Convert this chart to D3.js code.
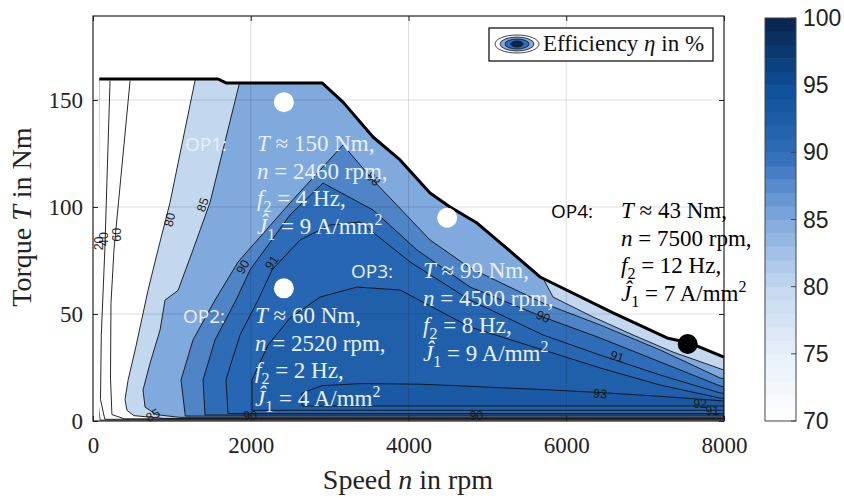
<!DOCTYPE html>
<html>
<head>
<meta charset="utf-8">
<script src="https://cdn.jsdelivr.net/npm/d3@7"></script>
<style>
body { margin: 0; background: #fff; }
svg { display: block; }
</style>
</head>
<body>
<svg id="effmap" width="844" height="498"></svg>
<script>
// torque limit of the machine (speed in rpm, torque in Nm)
const limitSpeed = [80, 1585, 1686, 2904, 3170, 3550, 3893, 4273, 4527, 4869, 5199, 5668, 6594, 7278, 7570, 8000];
const limitTorque = [159.8, 159.8, 158, 158, 149, 132.7, 122, 106.5, 100, 92.5, 82.2, 67.3, 50.5, 38.8, 36.4, 29.9];

// efficiency regions eta >= level as [rpm, Nm]
const levels = [80, 85, 88, 90, 91, 92, 93];
const eta80 = [[1293,190],[1293,159],[976,102],[824,80],[697,61],[545,35],[444,19],[406,10],[430,5],[520,2.5],[900,1.2],[8000,1.2],[8000,190]];
const eta85 = [[1870,190],[1864,159],[1483,102],[1268,80],[1078,61],[913,56.5],[850,42.5],[723,27],[634,14.5],[660,6.5],[800,3],[1100,1.7],[8000,1.7],[8000,23.8],[7354,32.2],[6847,40.2],[6340,48.6],[5833,57.9],[5600,74],[4000,190]];
const eta88 = [[1170,2.3],[1116,19.2],[1268,37.9],[1547,56.5],[1839,74.3],[2498,101.9],[3170,129],[3550,112.6],[4273,84.6],[4780,71.5],[5706,55.1],[6429,44.9],[7190,33.2],[7950,20.1],[8000,19.8],[8000,2.3]];
const eta90 = [[1420,2.8],[1395,19.2],[1547,37.9],[1813,56.5],[1991,70.6],[2498,96.3],[2916,111.2],[3550,98.6],[4108,79.9],[4780,62.6],[5706,48.6],[6429,38.8],[7190,27.6],[7950,16.4],[8000,16],[8000,2.8]];
const eta91 = [[1712,3.5],[1686,19.2],[1864,40.2],[2092,56.5],[2270,70.6],[2625,84.6],[3005,91.6],[3386,93],[4020,74.3],[4780,56.5],[5706,40.2],[6429,30.8],[7190,21.5],[7950,13.1],[8000,12.9],[8000,3.5]];
const eta92 = [[2016,5],[2016,19.2],[2219,35.5],[2498,48.1],[2878,57.9],[3348,62.6],[3893,61.2],[4780,43.9],[5706,33.2],[6429,24.8],[7190,16.8],[7950,10.7],[8000,10.5],[8000,5]];
const eta93 = [[2650,7],[2650,13],[2900,16.5],[3400,17.5],[4150,17.2],[4900,16],[5800,14.5],[6430,13.3],[7200,11.5],[7950,9.5],[8000,9.3],[8000,7]];
const regions = [eta80, eta85, eta88, eta90, eta91, eta92, eta93];

// low efficiency iso lines (open)
const eta20 = [[75,160],[68,80],[60,10],[90,0.4],[8000,0.4]];
const eta40 = [[216,159],[150,80],[105,40],[95,10],[150,0.8],[8000,0.8]];
const eta60 = [[470,159],[266,80],[228,55],[222,20],[240,3],[400,1.0],[8000,1.0]];

// contour labels
const labelText = ["20","40","60","80","85","88","90","91","90","91","93","92","91","85","90","90"];
const labelSpeed = [70,140,300,976,1394,3550,1902,2270,5706,6644,6429,7697,7850,760,1990,4860];
const labelTorque = [83,85,87,94,101,113,72,74,48.6,30,12.6,8,4.5,2.5,2.5,2.5];
const labelAngle = [-90,-90,-90,-76,-72,45,-60,-55,25,18,5,0,0,-30,0,0];

// operating points
const opName = ["OP1:", "OP2:", "OP3:", "OP4:"];
const opSpeed = [2420, 2420, 4490, 7540];
const opTorque = [149, 62, 95, 36];
const opTorqueText = ["150", "60", "99", "43"];
const opSpeedText = ["2460", "2520", "4500", "7500"];
const opF2 = ["4", "2", "8", "12"];
const opJ1 = ["9", "4", "9", "7"];

const xTicks = [0, 2000, 4000, 6000, 8000];
const yTicks = [0, 50, 100, 150];
const cTicks = [70, 75, 80, 85, 90, 95, 100];

const svg = d3.select("#effmap");
const x = d3.scaleLinear().domain([0, 8000]).range([93, 724]);
const y = d3.scaleLinear().domain([0, 189.25]).range([421, 16]);
const color = d3.scaleLinear()
  .domain([70, 75, 80, 85, 90, 95, 100])
  .range(["#ffffff", "#e6eff9", "#c3d8ef", "#80a9dd", "#2e6cb8", "#0c4e98", "#08234a"]);

const serif = "'Liberation Serif', 'Times New Roman', serif";
const sans = "'Liberation Sans', Arial, sans-serif";

// clip to torque envelope
const envPts = limitSpeed.map((s, i) => [s, limitTorque[i]]);
const clipPts = [[limitSpeed[0], 0]].concat(envPts).concat([[8000, 0]]);
const defs = svg.append("defs");
defs.append("clipPath").attr("id", "envclip")
  .append("path")
  .attr("d", "M" + clipPts.map(p => x(p[0]) + "," + y(p[1])).join("L") + "Z");
defs.append("clipPath").attr("id", "plotclip")
  .append("rect").attr("x", 93).attr("y", 16).attr("width", 631).attr("height", 405);

const line = d3.line().x(d => x(d[0])).y(d => y(d[1]));

const mapG = svg.append("g").attr("clip-path", "url(#plotclip)")
  .append("g").attr("clip-path", "url(#envclip)");

regions.forEach((r, i) => {
  mapG.append("path")
    .attr("d", line(r) + "Z")
    .attr("fill", color(levels[i]))
    .attr("stroke", "#111")
    .attr("stroke-width", 0.9);
});
[eta20, eta40, eta60].forEach(l => {
  mapG.append("path")
    .attr("d", line(l))
    .attr("fill", "none")
    .attr("stroke", "#111")
    .attr("stroke-width", 0.9);
});

// contour labels
labelText.forEach((t, i) => {
  const px = x(labelSpeed[i]), py = y(labelTorque[i]);
  svg.append("text")
    .text(t)
    .attr("transform", "translate(" + px + "," + py + ") rotate(" + labelAngle[i] + ")")
    .attr("text-anchor", "middle")
    .attr("dominant-baseline", "central")
    .style("font-family", sans)
    .style("font-size", "12.5px")
    .style("fill", "#1a1a1a");
});

// grid
const grid = svg.append("g").attr("stroke", "#000").attr("stroke-opacity", 0.13).attr("stroke-width", 1);
xTicks.slice(1, -1).forEach(t => {
  grid.append("line").attr("x1", x(t)).attr("x2", x(t)).attr("y1", 16).attr("y2", 421);
});
yTicks.slice(1).forEach(t => {
  grid.append("line").attr("x1", 93).attr("x2", 724).attr("y1", y(t)).attr("y2", y(t));
});

// torque limit
svg.append("path")
  .attr("d", line(envPts))
  .attr("fill", "none")
  .attr("stroke", "#000")
  .attr("stroke-width", 3)
  .attr("stroke-linejoin", "round");

// axes
const xAxis = svg.append("g").attr("transform", "translate(0,421)")
  .call(d3.axisBottom(x).tickValues(xTicks).tickFormat(d3.format("d")).tickSize(-5).tickPadding(15.5));
const yAxis = svg.append("g").attr("transform", "translate(93,0)")
  .call(d3.axisLeft(y).tickValues(yTicks).tickSize(-5).tickPadding(10));
svg.append("g").attr("transform", "translate(0,16)")
  .call(d3.axisTop(x).tickValues(xTicks).tickSize(-5).tickFormat(""));
svg.append("g").attr("transform", "translate(724,0)")
  .call(d3.axisRight(y).tickValues(yTicks).tickSize(-5).tickFormat(""));
svg.selectAll(".domain").remove();
svg.selectAll(".tick line").attr("stroke", "#222");
[xAxis, yAxis].forEach(a => {
  a.selectAll("text").style("font-family", serif).style("font-size", "23px").attr("fill", "#222");
});
svg.append("rect").attr("x", 93).attr("y", 16).attr("width", 631).attr("height", 405)
  .attr("fill", "none").attr("stroke", "#222").attr("stroke-width", 1.2);

// axis labels
const xl = svg.append("text").attr("x", 408).attr("y", 489).attr("text-anchor", "middle")
  .style("font-family", serif).style("font-size", "28px").style("fill", "#222");
xl.append("tspan").text("Speed ");
xl.append("tspan").text("n").style("font-style", "italic");
xl.append("tspan").text(" in rpm");
const yl = svg.append("text").attr("transform", "translate(31,217) rotate(-90)").attr("text-anchor", "middle")
  .style("font-family", serif).style("font-size", "28px").style("fill", "#222");
yl.append("tspan").text("Torque ");
yl.append("tspan").text("T").style("font-style", "italic");
yl.append("tspan").text(" in Nm");

// operating point markers
opSpeed.forEach((s, i) => {
  svg.append("circle")
    .attr("cx", x(s)).attr("cy", y(opTorque[i])).attr("r", 10)
    .attr("fill", i === 3 ? "#000" : "#fff");
});

// operating point annotations
function mathLine(xp, yp, parts, fill) {
  const t = svg.append("text").attr("x", xp).attr("y", yp)
    .style("font-family", serif).style("font-size", "23px").style("fill", fill);
  let shift = 0;
  parts.forEach(p => {
    const s = t.append("tspan").text(p[0]);
    let want = 0;
    if (p[1] === "i") s.style("font-style", "italic");
    if (p[1] === "sub") { want = 6; s.style("font-size", "16px"); }
    if (p[1] === "sup") { want = -9; s.style("font-size", "16px"); }
    if (want !== shift) { s.attr("dy", want - shift); shift = want; }
  });
}
const opLayout = [
  { lx: 185, mx: 257, y: 151 },
  { lx: 183, mx: 255, y: 323 },
  { lx: 351, mx: 423, y: 278 },
  { lx: 551, mx: 621, y: 218 }
];
opName.forEach((name, i) => {
  const L = opLayout[i];
  const fill = i === 3 ? "#000" : "#e8f0fa";
  svg.append("text").text(name).attr("x", L.lx).attr("y", L.y)
    .style("font-family", "'Open Sans', 'Noto Sans', sans-serif").style("font-size", "19px").style("fill", fill);
  mathLine(L.mx, L.y, [["T", "i"], [" \u2248 " + opTorqueText[i] + " Nm,"]], fill);
  mathLine(L.mx, L.y + 27.5, [["n", "i"], [" = " + opSpeedText[i] + " rpm,"]], fill);
  mathLine(L.mx, L.y + 55, [["f", "i"], ["2", "sub"], [" = " + opF2[i] + " Hz,"]], fill);
  mathLine(L.mx, L.y + 82.5, [["\u0134", "i"], ["1", "sub"], [" = " + opJ1[i] + " A/mm"], ["2", "sup"]], fill);
});

// legend
svg.append("rect").attr("x", 489).attr("y", 28).attr("width", 224).attr("height", 33)
  .attr("fill", "#fff").attr("stroke", "#000").attr("stroke-width", 1.2);
[[22, 9, "#fff"], [17, 7, color(85)], [12, 5, color(90)], [6, 3, "#0a2550"]].forEach(e => {
  svg.append("ellipse").attr("cx", 517).attr("cy", 44).attr("rx", e[0]).attr("ry", e[1])
    .attr("fill", e[2]).attr("stroke", "#111").attr("stroke-width", 0.8);
});
const lt = svg.append("text").attr("x", 543).attr("y", 51)
  .style("font-family", serif).style("font-size", "23px").style("fill", "#111");
lt.append("tspan").text("Efficiency ");
lt.append("tspan").text("\u03b7").style("font-style", "italic");
lt.append("tspan").text(" in %");

// colorbar
const c = d3.scaleLinear().domain([70, 100]).range([421, 18]);
d3.range(70, 100).forEach(v => {
  svg.append("rect")
    .attr("x", 765).attr("y", c(v + 1)).attr("width", 31).attr("height", c(v) - c(v + 1) + 0.5)
    .attr("fill", color(v + 0.5));
});
svg.append("rect").attr("x", 765).attr("y", 18).attr("width", 31).attr("height", 403)
  .attr("fill", "none").attr("stroke", "#444").attr("stroke-width", 1);
cTicks.forEach(t => {
  svg.append("line").attr("x1", 791).attr("x2", 796).attr("y1", c(t)).attr("y2", c(t))
    .attr("stroke", "#444");
  svg.append("text").text(t).attr("x", 803).attr("y", c(t))
    .attr("dominant-baseline", "central")
    .style("font-family", sans).style("font-size", "23px").style("fill", "#222");
});
</script>
</body>
</html>
